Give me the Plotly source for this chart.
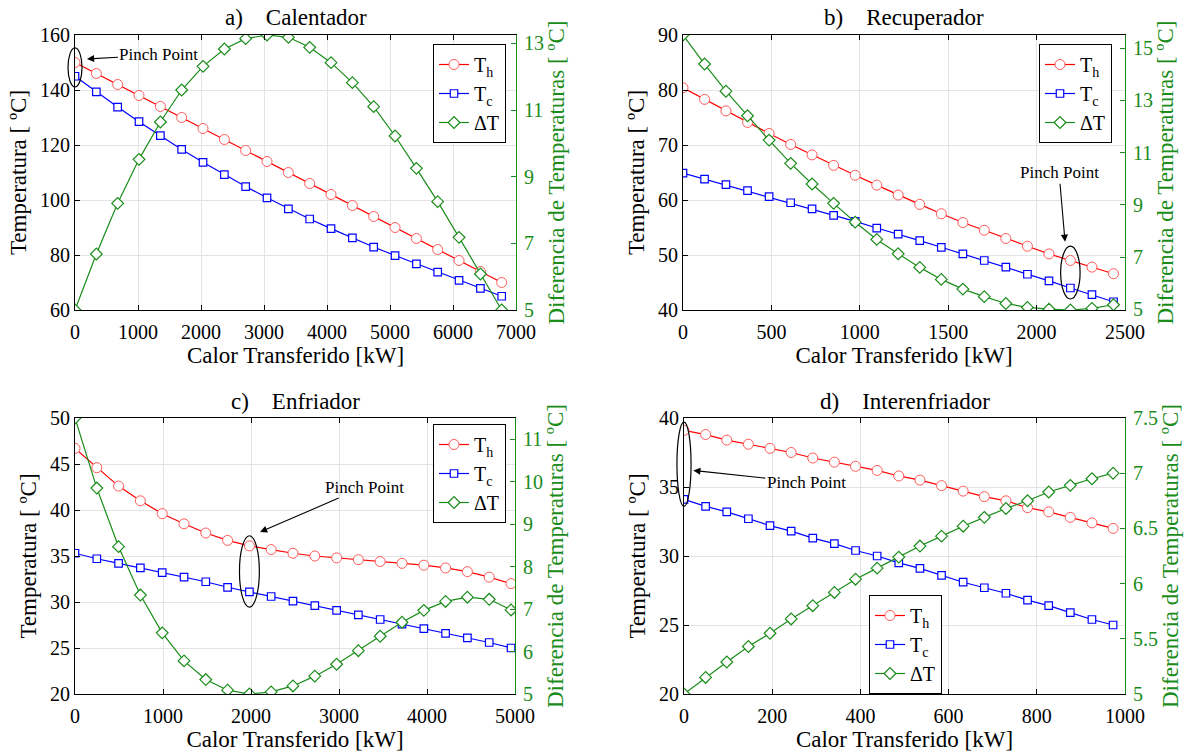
import plotly.graph_objects as go

W, H = 1192, 753

# ---------------- a) Calentador ----------------
q_cal = [0, 339, 677, 1016, 1355, 1693, 2032, 2371, 2709, 3048, 3387,
         3725, 4064, 4403, 4741, 5080, 5419, 5757, 6096, 6435, 6773]
th_cal = [150, 146, 142, 138, 134, 130, 126, 122, 118, 114, 110,
          106, 102, 98, 94, 90, 86, 82, 78, 74, 70]
tc_cal = [145.0, 139.3, 133.8, 128.5, 123.4, 118.4, 113.7, 109.2, 104.9, 100.8, 96.8,
          93.1, 89.6, 86.2, 82.9, 79.8, 76.8, 73.8, 70.8, 67.9, 65.0]
dt_cal = [5.0, 6.68, 8.2, 9.52, 10.64, 11.6, 12.31, 12.83, 13.14, 13.25, 13.18,
          12.88, 12.42, 11.82, 11.1, 10.22, 9.25, 8.25, 7.18, 6.08, 5.0]

# ---------------- b) Recuperador ----------------
q_rec = [0, 122, 243, 365, 487, 609, 730, 852, 974, 1096, 1217,
         1339, 1461, 1583, 1704, 1826, 1948, 2070, 2191, 2313, 2435]
th_rec = [80.4, 78.3, 76.2, 74.1, 72.1, 70.1, 68.2, 66.3, 64.5, 62.7, 60.9,
          59.2, 57.5, 55.9, 54.5, 53.0, 51.6, 50.2, 49.0, 47.8, 46.6]
tc_rec = [64.9, 63.8, 62.8, 61.7, 60.6, 59.5, 58.4, 57.2, 56.1, 54.9, 53.8,
          52.6, 51.4, 50.2, 49.0, 47.8, 46.5, 45.3, 44.0, 42.8, 41.5]
dt_rec = [15.5, 14.39, 13.35, 12.41, 11.48, 10.59, 9.80, 9.06, 8.34, 7.68, 7.13,
          6.61, 6.15, 5.78, 5.49, 5.23, 5.08, 5.01, 4.98, 5.04, 5.18]

# ---------------- c) Enfriador ----------------
q_enf = [0, 248, 495, 743, 991, 1239, 1486, 1734, 1982, 2229, 2477,
         2725, 2973, 3220, 3468, 3716, 3964, 4211, 4459, 4707, 4955]
th_enf = [46.7, 44.6, 42.6, 41.0, 39.6, 38.5, 37.5, 36.7, 36.1, 35.7, 35.3,
          35.0, 34.8, 34.6, 34.4, 34.2, 34.0, 33.7, 33.3, 32.7, 32.0]
tc_enf = [35.3, 34.7, 34.2, 33.7, 33.2, 32.7, 32.2, 31.6, 31.1, 30.6, 30.1,
          29.6, 29.1, 28.6, 28.1, 27.6, 27.1, 26.6, 26.1, 25.6, 25.0]
dt_enf = [11.5, 9.85, 8.47, 7.33, 6.44, 5.78, 5.34, 5.09, 5.0, 5.05, 5.19,
          5.42, 5.70, 6.02, 6.36, 6.69, 6.97, 7.18, 7.28, 7.23, 6.98]

# ---------------- d) Interenfriador ----------------
q_int = [0, 49, 97, 146, 195, 243, 292, 341, 389, 438, 487,
         535, 584, 633, 681, 730, 779, 827, 876, 925, 973]
th_int = [39.1, 38.8, 38.4, 38.1, 37.8, 37.5, 37.1, 36.8, 36.5, 36.2, 35.8,
          35.5, 35.1, 34.7, 34.3, 34.0, 33.5, 33.2, 32.8, 32.4, 32.0]
tc_int = [34.1, 33.6, 33.2, 32.7, 32.2, 31.8, 31.3, 30.9, 30.4, 30.0, 29.5,
          29.1, 28.6, 28.1, 27.7, 27.3, 26.8, 26.4, 25.9, 25.4, 25.0]
dt_int = [5.0, 5.15, 5.29, 5.43, 5.55, 5.68, 5.80, 5.92, 6.04, 6.14, 6.24,
          6.34, 6.43, 6.52, 6.60, 6.68, 6.75, 6.83, 6.89, 6.95, 7.0]

FONT = "Liberation Serif"
RED, RED_MK, BLUE, GREEN = "#ff0000", "#ff5a5a", "#0000ff", "#1a8c1a"
NB = "\u00a0"

# panel layout: pixel box (left, top, right, bottom), axis ranges/ticks,
# legend placement, pinch-point index and annotation offsets
panels = [
    dict(title="a)" + NB * 4 + "Calentador", q=q_cal, th=th_cal, tc=tc_cal, dt=dt_cal,
         box=(75, 35, 516, 310), xr=[0, 7000], xd=1000, yr=[60, 160], yd=20, y2d=2, y2r=None,
         leg=dict(x=506, y=44, xanchor="right"),
         pinch=0, ell_dx=(-111, 111), ell_dy=(3.9, 5.3),
         head=(190, 1.3), txt=(72, -4)),
    dict(title="b)" + NB * 4 + "Recuperador", q=q_rec, th=th_rec, tc=tc_rec, dt=dt_rec,
         box=(683, 35, 1125, 310), xr=[0, 2500], xd=500, yr=[40, 90], yd=10, y2d=2, y2r=None,
         leg=dict(x=1112, y=44, xanchor="right"),
         pinch=18, ell_dx=(-55, 55), ell_dy=(2.0, 2.6),
         head=(-30, 3.4), txt=(-6, -69)),
    dict(title="c)" + NB * 4 + "Enfriador", q=q_enf, th=th_enf, tc=tc_enf, dt=dt_enf,
         box=(75, 418, 515, 694), xr=[0, 5000], xd=1000, yr=[20, 50], yd=5, y2d=1, y2r=None,
         leg=dict(x=506, y=424, xanchor="right"),
         pinch=8, ell_dx=(-113, 113), ell_dy=(1.65, 1.1),
         head=(121, 1.5), txt=(104, -45)),
    dict(title="d)" + NB * 4 + "Interenfriador", q=q_int, th=th_int, tc=tc_int, dt=dt_int,
         box=(684, 418, 1125, 694), xr=[0, 1000], xd=200, yr=[20, 40], yd=5, y2d=0.5, y2r=[5, 7.5],
         leg=dict(x=869, y=595, xanchor="left"),
         pinch=0, ell_dx=(-16, 16), ell_dy=(0.5, 0.6),
         head=(21, -2.9), txt=(113, 12)),
]

fig = go.Figure()
layout = dict(
    template="none",
    width=W, height=H, margin=dict(l=0, r=0, t=0, b=0, autoexpand=False),
    paper_bgcolor="white", plot_bgcolor="white",
    font=dict(family=FONT, size=20, color="black"),
    showlegend=True,
)
annotations, shapes = [], []

for i, p in enumerate(panels):
    n = i + 1
    xa = "x" if n == 1 else f"x{n}"
    ya_l = f"y{2 * n - 1}" if n > 1 else "y"
    ya_r = f"y{2 * n}"
    leg = "legend" if n == 1 else f"legend{n}"
    L, T, R, B = p["box"]
    xdom = [L / W, R / W]
    ydom = [1 - B / H, 1 - T / H]

    fig.add_trace(go.Scatter(
        x=p["q"], y=p["th"], xaxis=xa, yaxis=ya_l, name="T<sub>h</sub>", legend=leg,
        mode="lines+markers", line=dict(color=RED, width=1.2),
        marker=dict(symbol="circle", size=10, color="white", line=dict(color=RED_MK, width=1))))
    fig.add_trace(go.Scatter(
        x=p["q"], y=p["tc"], xaxis=xa, yaxis=ya_l, name="T<sub>c</sub>", legend=leg,
        mode="lines+markers", line=dict(color=BLUE, width=1.2),
        marker=dict(symbol="square", size=7.5, color="white", line=dict(color=BLUE, width=1.2))))
    fig.add_trace(go.Scatter(
        x=p["q"], y=p["dt"], xaxis=xa, yaxis=ya_r, name="\u0394T", legend=leg,
        mode="lines+markers", line=dict(color=GREEN, width=1.2),
        marker=dict(symbol="diamond", size=9, color="white", line=dict(color=GREEN, width=1.2))))

    ax_common = dict(ticks="inside", ticklen=5, tickwidth=1, zeroline=False, showline=True,
                     linewidth=1, automargin=False, tickfont=dict(size=20, family=FONT))
    layout["xaxis" if n == 1 else f"xaxis{n}"] = dict(
        ax_common, domain=xdom, anchor=ya_l, range=p["xr"], dtick=p["xd"], tick0=0,
        linecolor="black", tickcolor="black", mirror="ticks", ticklabelstandoff=4,
        showgrid=True, gridcolor="#e4e4e4", gridwidth=1,
        title=dict(text="Calor Transferido [kW]", font=dict(size=23, family=FONT), standoff=2))
    layout["yaxis" if n == 1 else f"yaxis{2 * n - 1}"] = dict(
        ax_common, domain=ydom, anchor=xa, range=p["yr"], dtick=p["yd"], tick0=0,
        linecolor="black", tickcolor="black", showgrid=True, gridcolor="#e4e4e4", gridwidth=1,
        title=dict(text="Temperatura [ \u00baC]", font=dict(size=23, family=FONT), standoff=6))
    y2r = p["y2r"] if p["y2r"] else [min(p["dt"]), max(p["dt"])]
    layout[f"yaxis{2 * n}"] = dict(
        ax_common, domain=ydom, anchor=xa, overlaying=ya_l, side="right",
        range=y2r, dtick=p["y2d"], tick0=5, showgrid=False, ticklabelstandoff=3,
        linecolor=GREEN, tickcolor=GREEN, tickfont=dict(size=20, family=FONT, color=GREEN),
        title=dict(text="Diferencia de Temperaturas [ \u00baC]",
                   font=dict(size=23, family=FONT, color=GREEN), standoff=4))

    lg = p["leg"]
    layout[leg] = dict(
        x=lg["x"] / W, y=1 - lg["y"] / H, xanchor=lg["xanchor"], yanchor="top",
        xref="paper", yref="paper",
        bgcolor="white", bordercolor="black", borderwidth=1,
        font=dict(size=20, family=FONT), tracegroupgap=0, itemwidth=30)

    # panel title
    annotations.append(dict(
        text=p["title"], x=(L + R) / 2 / W, y=1 - (T - 17) / H, xref="paper", yref="paper",
        xanchor="center", yanchor="middle", showarrow=False, font=dict(size=23, family=FONT)))

    # pinch point: ellipse around the hot/cold pair (paper coordinates so it is
    # not clipped at the axis edge) plus arrow and label
    k = p["pinch"]
    qk, thk, tck = p["q"][k], p["th"][k], p["tc"][k]

    def px(v, r=p["xr"], a=L, b=R):
        return (a + (v - r[0]) / (r[1] - r[0]) * (b - a)) / W

    def py(v, r=p["yr"], a=B, b=T):
        return 1 - (a + (v - r[0]) / (r[1] - r[0]) * (b - a)) / H

    shapes.append(dict(
        type="circle", xref="paper", yref="paper",
        x0=px(qk + p["ell_dx"][0]), x1=px(qk + p["ell_dx"][1]),
        y0=py(tck - p["ell_dy"][0]), y1=py(thk + p["ell_dy"][1]),
        line=dict(color="black", width=1.2), fillcolor="rgba(0,0,0,0)", layer="above"))
    annotations.append(dict(
        text="Pinch Point", x=qk + p["head"][0], y=thk + p["head"][1], xref=xa, yref=ya_l,
        ax=p["txt"][0], ay=p["txt"][1], showarrow=True, arrowhead=2, arrowsize=1.3,
        arrowwidth=1.1, arrowcolor="black", font=dict(size=17, family=FONT)))

layout["annotations"] = annotations
layout["shapes"] = shapes
fig.update_layout(**layout)
fig.write_html("out.html")
